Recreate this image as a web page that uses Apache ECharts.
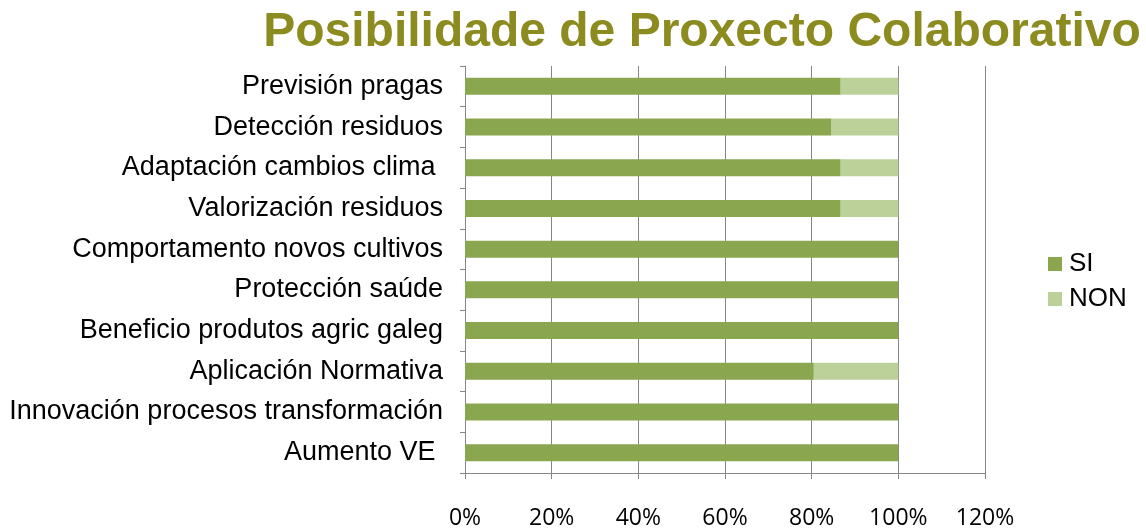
<!DOCTYPE html>
<html><head><meta charset="utf-8">
<script src="https://cdn.jsdelivr.net/npm/echarts@6/dist/echarts.min.js"></script>
<style>html,body{margin:0;padding:0;background:#fff}#c{width:1146px;height:530px}</style>
</head><body><div id="c"></div>
<script>
const categories = ["Previsión pragas","Detección residuos","Adaptación cambios clima ","Valorización residuos","Comportamento novos cultivos","Protección saúde","Beneficio produtos agric galeg","Aplicación Normativa","Innovación procesos transformación","Aumento VE "];
const siValues = [86.7, 84.6, 86.7, 86.7, 100, 100, 100, 80.5, 100, 100];
const nonValues = [13.3, 15.4, 13.3, 13.3, 0, 0, 0, 19.5, 0, 0];
const xTicks = [0, 20, 40, 60, 80, 100, 120];

const chart = echarts.init(document.getElementById('c'));
chart.setOption({
  animation: false,
  title: {
    text: 'Posibilidade de Proxecto Colaborativo',
    left: 697, top: 4, textAlign: 'center',
    textStyle: {fontFamily: 'Liberation Sans', fontSize: 48, fontWeight: 'bold', color: '#8b8b1f'}
  },
  legend: {
    orient: 'vertical', left: 1048, top: 251, padding: 0, itemWidth: 14, itemHeight: 14, itemGap: 9,
    icon: 'rect',
    textStyle: {fontFamily: 'Liberation Sans', fontSize: 26, color: '#000', padding: [0,0,0,2]},
    data: ['SI', 'NON']
  },
  grid: {left: 465, right: 161, top: 66, bottom: 55, containLabel: false},
  xAxis: {
    type: 'value', min: xTicks[0], max: xTicks[xTicks.length-1], interval: 20,
    axisLabel: {formatter: '{value}%', fontFamily: 'Open Sans', fontSize: 23, color: '#000', margin: 34},
    axisLine: {show: true, lineStyle: {color: '#868686'}},
    axisTick: {show: true, length: 6, inside: false, lineStyle: {color: '#868686'}},
    splitLine: {show: true, lineStyle: {color: '#868686', width: 1}}
  },
  yAxis: {
    type: 'category', data: categories, inverse: true,
    axisLabel: {fontFamily: 'Liberation Sans', fontSize: 27, color: '#000', margin: 22},
    axisLine: {show: true, lineStyle: {color: '#868686'}},
    axisTick: {show: true, length: 5, lineStyle: {color: '#868686'}}
  },
  series: [
    {name: 'SI', type: 'bar', stack: 't', data: siValues, barWidth: 17, itemStyle: {color: '#8aa64f'}},
    {name: 'NON', type: 'bar', stack: 't', data: nonValues, barWidth: 17, itemStyle: {color: '#bcd19a'}}
  ]
});
</script></body></html>
